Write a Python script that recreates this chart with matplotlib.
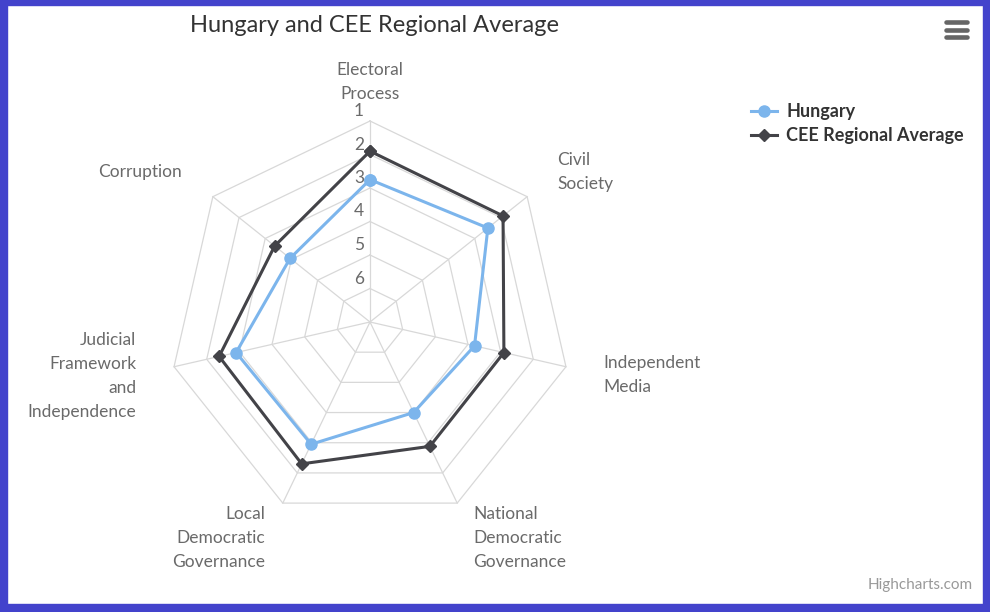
import numpy as np
import matplotlib
matplotlib.use('Agg')
import matplotlib.pyplot as plt
from matplotlib.lines import Line2D
from matplotlib.patches import Rectangle

plt.rcParams['font.family'] = ['Lato', 'DejaVu Sans']

# data (Nations in Transit scores, 1 = best, 7 = worst)
categories = ['Electoral\nProcess', 'Civil\nSociety', 'Independent\nMedia',
              'National\nDemocratic\nGovernance', 'Local\nDemocratic\nGovernance',
              'Judicial\nFramework\nand\nIndependence', 'Corruption']
hungary = [2.75, 2.5, 3.8, 4.0, 2.95, 2.9, 3.95]
cee_avg = [1.9, 1.92, 2.9, 2.88, 2.3, 2.38, 3.36]
ring_values = [1, 2, 3, 4, 5, 6]

W, H = 990, 612
fig = plt.figure(figsize=(W / 100, H / 100), dpi=100)
fig.patch.set_facecolor('white')

# polar area: centre (370, 322) px, radius 201 px
cx, cy, R = 370, 322, 201
ax = fig.add_axes([(cx - R) / W, (H - cy - R) / H, 2 * R / W, 2 * R / H],
                  projection='polar')
ax.set_theta_zero_location('N')
ax.set_theta_direction(-1)
ax.set_ylim(7, 1)
ax.set_axis_off()

n = len(categories)
theta = np.linspace(0, 2 * np.pi, n, endpoint=False)
theta_c = np.append(theta, theta[0])

grid_col = '#d8d8d8'
for v in ring_values:
    ax.plot(theta_c, [v] * (n + 1), color=grid_col, lw=0.9, zorder=1, clip_on=False)
for t in theta:
    ax.plot([t, t], [7, 1], color=grid_col, lw=0.9, zorder=1, clip_on=False)

hu_line, = ax.plot(theta_c, hungary + hungary[:1], color='#7cb5ec', lw=2.2,
                   marker='o', ms=8, zorder=3, clip_on=False, label='Hungary')
cee_line, = ax.plot(theta_c, cee_avg + cee_avg[:1], color='#434348', lw=2.2,
                    marker='D', ms=6.5, zorder=4, clip_on=False,
                    label='CEE Regional Average')

lab_col = '#6a6a6a'
# radial tick labels along the top axis
for v in ring_values:
    ax.annotate(str(v), xy=(0, v), xytext=(-11, 10), textcoords='offset pixels',
                ha='center', va='center', fontsize=12.5, color=lab_col)

# category labels
label_pos = [((0, 19), 'center', 'bottom'),
             ((30, 25), 'left', 'center'),
             ((37, -8), 'left', 'center'),
             ((16, -35), 'left', 'center'),
             ((-18, -35), 'right', 'center'),
             ((-38, -9), 'right', 'center'),
             ((-31, 25), 'right', 'center')]
for t, lab, (off, ha, va) in zip(theta, categories, label_pos):
    ax.annotate(lab, xy=(t, 1), xytext=off, textcoords='offset pixels',
                ha=ha, va=va, multialignment=ha, fontsize=12.5,
                color=lab_col, linespacing=1.62)

fig.text(374 / W, 1 - 25 / H, 'Hungary and CEE Regional Average',
         ha='center', va='center', fontsize=17, color='#333333')

leg = fig.legend(handles=[hu_line, cee_line], loc='upper left',
                 bbox_to_anchor=(751 / W, 1 - 103 / H), frameon=False,
                 borderpad=0, borderaxespad=0, handlelength=1.45,
                 handletextpad=0.5, labelspacing=0.4,
                 prop={'size': 13, 'weight': 'bold'})
for txt in leg.get_texts():
    txt.set_color('#333333')

fig.text(973 / W, 1 - 585 / H, 'Highcharts.com', ha='right', va='center',
         fontsize=11, color='#999999')

# export menu icon
for yy in (22, 29.5, 37):
    fig.add_artist(Line2D([946 / W, 967 / W], [1 - yy / H, 1 - yy / H],
                          color='#666666', lw=3.3, solid_capstyle='round'))

# blue frame
frame = '#4343cc'
fig.add_artist(Rectangle((0, 0), 7 / W, 1, transform=fig.transFigure, color=frame))
fig.add_artist(Rectangle((1 - 7 / W, 0), 7 / W, 1, transform=fig.transFigure, color=frame))
fig.add_artist(Rectangle((0, 1 - 5 / H), 1, 5 / H, transform=fig.transFigure, color=frame))
fig.add_artist(Rectangle((0, 0), 1, 8 / H, transform=fig.transFigure, color=frame))

fig.savefig('out.png', dpi=100)
